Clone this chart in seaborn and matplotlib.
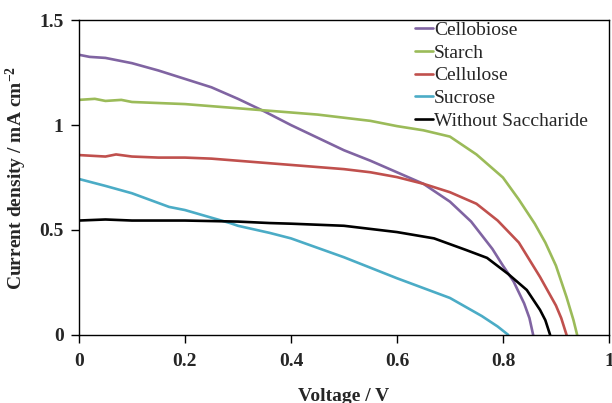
import matplotlib
matplotlib.use('Agg')
import matplotlib.pyplot as plt
import seaborn as sns
import pandas as pd

# values (voltage in V, current density in mA cm-2)
cellobiose_v = [0, 0.02, 0.05, 0.08, 0.1, 0.15, 0.2, 0.25, 0.3, 0.35, 0.4, 0.45, 0.5,
                0.55, 0.6, 0.65, 0.7, 0.74, 0.78, 0.8, 0.82, 0.84, 0.85, 0.857]
cellobiose_j = [1.335, 1.325, 1.32, 1.305, 1.295, 1.26, 1.22, 1.18, 1.125, 1.065, 1.0, 0.94,
                0.88, 0.83, 0.775, 0.72, 0.635, 0.54, 0.41, 0.33, 0.255, 0.15, 0.08, 0.0]

starch_v = [0, 0.03, 0.05, 0.08, 0.1, 0.15, 0.2, 0.25, 0.3, 0.35, 0.4, 0.45, 0.5, 0.55,
            0.6, 0.65, 0.7, 0.75, 0.8, 0.83, 0.86, 0.88, 0.9, 0.92, 0.933, 0.94]
starch_j = [1.12, 1.125, 1.115, 1.12, 1.11, 1.105, 1.10, 1.09, 1.08, 1.07, 1.06, 1.05, 1.035,
            1.02, 0.995, 0.975, 0.945, 0.86, 0.75, 0.645, 0.53, 0.44, 0.33, 0.18, 0.071, 0.0]

cellulose_v = [0, 0.05, 0.07, 0.1, 0.15, 0.2, 0.25, 0.3, 0.35, 0.4, 0.45, 0.5, 0.55, 0.6,
               0.65, 0.7, 0.75, 0.79, 0.83, 0.87, 0.9, 0.91, 0.92]
cellulose_j = [0.857, 0.85, 0.86, 0.85, 0.845, 0.845, 0.84, 0.83, 0.82, 0.81, 0.80, 0.79,
               0.775, 0.752, 0.72, 0.68, 0.625, 0.545, 0.44, 0.276, 0.14, 0.08, 0.0]

sucrose_v = [0, 0.05, 0.1, 0.17, 0.2, 0.285, 0.3, 0.36, 0.4, 0.5, 0.6, 0.7, 0.76, 0.79, 0.81]
sucrose_j = [0.743, 0.71, 0.675, 0.61, 0.595, 0.533, 0.52, 0.486, 0.46, 0.37, 0.27, 0.176,
             0.09, 0.04, 0.0]

blank_v = [0, 0.05, 0.1, 0.2, 0.3, 0.36, 0.4, 0.5, 0.6, 0.67, 0.73, 0.77, 0.81, 0.845,
           0.87, 0.88, 0.889]
blank_j = [0.545, 0.55, 0.545, 0.545, 0.54, 0.533, 0.53, 0.52, 0.49, 0.46, 0.405, 0.367,
           0.29, 0.214, 0.119, 0.07, 0.0]

labels = ['Cellobiose', 'Starch', 'Cellulose', 'Sucrose', 'Without Saccharide']
colors = ['#8064A2', '#9BBB59', '#C0504D', '#4BACC6', '#000000']

series = [(cellobiose_v, cellobiose_j), (starch_v, starch_j), (cellulose_v, cellulose_j),
          (sucrose_v, sucrose_j), (blank_v, blank_j)]
frames = []
for name, (v, j) in zip(labels, series):
    frames.append(pd.DataFrame({'Voltage': v, 'Current': j, 'Sample': name}))
df = pd.concat(frames, ignore_index=True)

sns.set_style('white')
plt.rcParams['font.family'] = ['Liberation Serif', 'DejaVu Serif']
plt.rcParams['mathtext.fontset'] = 'custom'
plt.rcParams['mathtext.rm'] = 'Liberation Serif:bold'

fig, ax = plt.subplots(figsize=(6.12, 4.03), dpi=100)
fig.subplots_adjust(left=0.129, right=0.995, top=0.950, bottom=0.169)

sns.lineplot(data=df, x='Voltage', y='Current', hue='Sample', hue_order=labels,
             palette=dict(zip(labels, colors)), sort=False, estimator=None,
             linewidth=1.9, ax=ax)

ax.set_xlim(0, 1)
ax.set_ylim(0, 1.5)
ax.set_xticks([0, 0.2, 0.4, 0.6, 0.8, 1])
ax.set_xticklabels(['0', '0.2', '0.4', '0.6', '0.8', '1'])
ax.set_yticks([0, 0.5, 1, 1.5])
ax.set_yticklabels(['0', '0.5', '1', '1.5'])
ax.tick_params(axis='both', direction='out', length=6, width=1, color='black',
               labelsize=14, bottom=True, left=True, top=False, right=False)
ax.tick_params(axis='x', pad=7)
ax.tick_params(axis='y', pad=5)
for lab in ax.get_xticklabels() + ax.get_yticklabels():
    lab.set_fontweight('bold')
for sp in ax.spines.values():
    sp.set_color('black')
    sp.set_linewidth(1.0)

ax.set_xlabel('Voltage / V', fontsize=14, fontweight='bold')
ax.set_ylabel(r'Current density / mA cm$\mathrm{^{-2}}$', fontsize=14, fontweight='bold')
ax.xaxis.set_label_coords(0.5, -0.17)
ax.yaxis.set_label_coords(-0.094, 0.5)

ax.legend(loc='upper left', bbox_to_anchor=(0.634, 0.997), frameon=False,
          fontsize=14, handlelength=0.92, handletextpad=0.05, labelspacing=0.27,
          borderpad=0, borderaxespad=0)

fig.savefig('out.png', dpi=100)
